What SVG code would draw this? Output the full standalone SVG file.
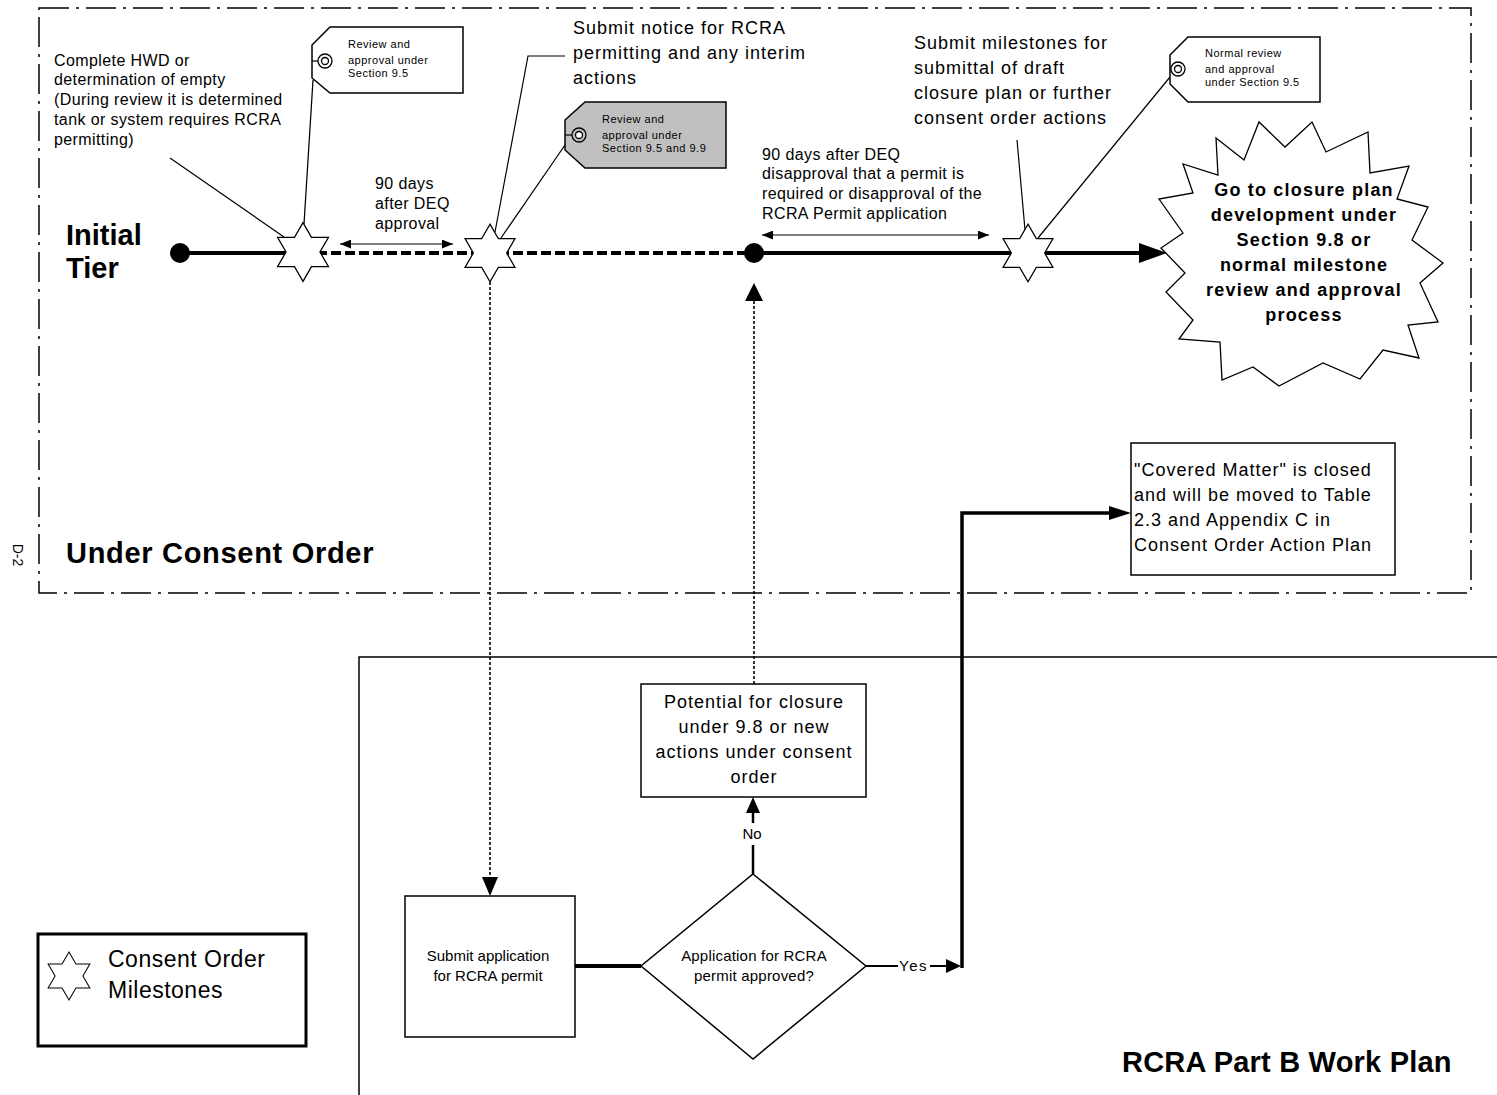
<svg xmlns="http://www.w3.org/2000/svg" width="1497" height="1095" viewBox="0 0 1497 1095">
<style>
  text { font-family: "Liberation Sans", Arial, sans-serif; fill: #000; }
  .t16 { font-size: 16px; letter-spacing: 0.4px; }
  .t18 { font-size: 18px; letter-spacing: 1px; }
  .t15 { font-size: 15px; }
  .tag { font-size: 11px; letter-spacing: 0.5px; }
  .big { font-size: 29px; font-weight: bold; }
  .burst { font-size: 18px; font-weight: bold; letter-spacing: 1.2px; }
  .box { fill: #fff; stroke: #000; stroke-width: 1.5; }
  .thin { fill: none; stroke: #000; stroke-width: 1.2; }
  .thick { fill: none; stroke: #000; stroke-width: 4; }
  .dot { fill: none; stroke: #000; stroke-width: 1.6; stroke-dasharray: 3 2; }
  .star { fill: #fff; stroke: #000; stroke-width: 1.2; }
  .head { fill: #000; stroke: none; }
</style>
<defs>
  <path id="star" d="M0,-28 L8.08,-14 L24.25,-14 L16.17,0 L24.25,14 L8.08,14 L0,28 L-8.08,14 L-24.25,14 L-16.17,0 L-24.25,-14 L-8.08,-14 Z"/>
  <marker id="sa" viewBox="0 0 10 8" refX="10" refY="4" markerWidth="11" markerHeight="9" markerUnits="userSpaceOnUse" orient="auto-start-reverse">
    <path d="M0,0 L10,4 L0,8 Z" fill="#000"/>
  </marker>
</defs>

<!-- Swimlane boundaries -->
<g id="consent-order-region">
  <rect x="39" y="8" width="1432" height="585" fill="none" stroke="#000" stroke-width="1.5" stroke-dasharray="30 7 3 7"/>
  <text class="big" x="66" y="563" style="letter-spacing:0.7px">Under Consent Order</text>
</g>
<g id="work-plan-region">
  <path d="M1497,657 L359,657 L359,1095" fill="none" stroke="#000" stroke-width="1.5"/>
  <text class="big" x="1122" y="1072" style="letter-spacing:0.2px">RCRA Part B Work Plan</text>
</g>
<g id="page-label">
  <text x="18" y="555" font-size="14" text-anchor="middle" transform="rotate(90 18 555)" dy="5">D-2</text>
</g>
<g id="initial-tier-label">
  <text class="big" x="66" y="245">Initial</text>
  <text class="big" x="66" y="278">Tier</text>
</g>

<!-- Connectors -->
<g id="connectors">
  <!-- timeline -->
  <line class="thick" x1="180" y1="253" x2="303" y2="253"/>
  <line class="thick" x1="303" y1="253" x2="754" y2="253" stroke-dasharray="10 4"/>
  <line class="thick" x1="754" y1="253" x2="1141" y2="253"/>
  <polygon class="head" points="1139,243 1167,253 1139,263"/>
  <!-- duration arrows -->
  <line class="thin" x1="340" y1="244" x2="453" y2="244" marker-start="url(#sa)" marker-end="url(#sa)"/>
  <line class="thin" x1="762" y1="235" x2="989" y2="235" marker-start="url(#sa)" marker-end="url(#sa)"/>
  <!-- leaders -->
  <line class="thin" x1="170" y1="158" x2="284" y2="237"/>
  <line class="thin" x1="313" y1="80" x2="304" y2="224"/>
  <polyline class="thin" points="565,56 528,56 495,232"/>
  <line class="thin" x1="565" y1="145" x2="501" y2="238"/>
  <line class="thin" x1="1017" y1="140" x2="1025" y2="230"/>
  <line class="thin" x1="1170" y1="77" x2="1038" y2="238"/>
  <!-- dotted links -->
  <line class="dot" x1="490" y1="282" x2="490" y2="879"/>
  <polygon class="head" points="482,877 490,896 498,877"/>
  <line class="dot" x1="754" y1="684" x2="754" y2="300"/>
  <polygon class="head" points="745,301 754,283 763,301"/>
  <!-- bottom flow -->
  <line class="thick" x1="575" y1="966" x2="641" y2="966"/>
  <line x1="753" y1="874" x2="753" y2="845" stroke="#000" stroke-width="2.5"/>
  <text class="t15" x="752" y="838.5" text-anchor="middle">No</text>
  <line x1="753" y1="823" x2="753" y2="810" stroke="#000" stroke-width="2.5"/>
  <polygon class="head" points="746,813 753,797 760,813"/>
  <line x1="866" y1="966" x2="898" y2="966" stroke="#000" stroke-width="2"/>
  <text class="t15" x="899" y="971" style="letter-spacing:1.5px">Yes</text>
  <line x1="930" y1="966" x2="948" y2="966" stroke="#000" stroke-width="2"/>
  <polygon class="head" points="946,959 961,966 946,973"/>
  <polyline points="962,968 962,513 1111,513" fill="none" stroke="#000" stroke-width="3.5"/>
  <polygon class="head" points="1109,506 1131,513 1109,520"/>
</g>

<!-- Timeline nodes -->
<g id="start-dot"><circle cx="180" cy="253" r="10" fill="#000"/></g>
<g id="mid-dot"><circle cx="754" cy="253" r="10" fill="#000"/></g>
<g id="milestone-1"><use href="#star" class="star" transform="translate(303,252) scale(1.05)"/></g>
<g id="milestone-2"><use href="#star" class="star" transform="translate(490,253) scale(1.03)"/></g>
<g id="milestone-3"><use href="#star" class="star" transform="translate(1028,253) scale(1.03)"/></g>

<!-- Annotations -->
<g id="note-hwd">
  <text class="t16" x="54" y="65.5">Complete HWD or</text>
  <text class="t16" x="54" y="84.5">determination of empty</text>
  <text class="t16" x="54" y="104.5">(During review it is determined</text>
  <text class="t16" x="54" y="124.5">tank or system requires RCRA</text>
  <text class="t16" x="54" y="144.5">permitting)</text>
</g>
<g id="note-90days-1">
  <text class="t16" x="375" y="188.5">90 days</text>
  <text class="t16" x="375" y="208.5">after DEQ</text>
  <text class="t16" x="375" y="228.5">approval</text>
</g>
<g id="note-submit-notice">
  <text class="t18" x="573" y="34">Submit notice for RCRA</text>
  <text class="t18" x="573" y="59">permitting and any interim</text>
  <text class="t18" x="573" y="84">actions</text>
</g>
<g id="note-90days-2">
  <text class="t16" x="762" y="159.5">90 days after DEQ</text>
  <text class="t16" x="762" y="178.5">disapproval that a permit is</text>
  <text class="t16" x="762" y="198.5">required or disapproval of  the</text>
  <text class="t16" x="762" y="218.5">RCRA Permit application</text>
</g>
<g id="note-submit-milestones">
  <text class="t18" x="914" y="49">Submit milestones for</text>
  <text class="t18" x="914" y="74">submittal of draft</text>
  <text class="t18" x="914" y="99">closure plan or further</text>
  <text class="t18" x="914" y="124">consent order actions</text>
</g>

<!-- Tags -->
<g id="tag-review-95">
  <polygon class="box" points="330,27 463,27 463,93 330,93 312,78 312,45"/>
  <line x1="312" y1="61" x2="318" y2="61" stroke="#000" stroke-width="1.2"/>
  <circle cx="325" cy="61" r="7" fill="none" stroke="#000" stroke-width="1.3"/>
  <circle cx="325" cy="61" r="3.5" fill="none" stroke="#000" stroke-width="1.3"/>
  <text class="tag" x="348" y="48">Review and</text>
  <text class="tag" x="348" y="64">approval  under</text>
  <text class="tag" x="348" y="77">Section 9.5</text>
</g>
<g id="tag-review-95-99">
  <polygon points="585,102 726,102 726,168 585,168 565,150 565,120" fill="#c0c0c0" stroke="#000" stroke-width="1.5"/>
  <line x1="565" y1="135" x2="572" y2="135" stroke="#000" stroke-width="1.2"/>
  <circle cx="579" cy="135" r="7" fill="#c0c0c0" stroke="#000" stroke-width="1.3"/>
  <circle cx="579" cy="135" r="3.5" fill="#fff" stroke="#000" stroke-width="1.3"/>
  <text class="tag" x="602" y="123">Review and</text>
  <text class="tag" x="602" y="139">approval under</text>
  <text class="tag" x="602" y="152">Section 9.5 and 9.9</text>
</g>
<g id="tag-normal-review">
  <polygon class="box" points="1188,37 1320,37 1320,102 1188,102 1170,84 1170,55"/>
  <circle cx="1178" cy="69" r="7" fill="none" stroke="#000" stroke-width="1.3"/>
  <circle cx="1178" cy="69" r="3.5" fill="none" stroke="#000" stroke-width="1.3"/>
  <text class="tag" x="1205" y="57">Normal review</text>
  <text class="tag" x="1205" y="73">and approval</text>
  <text class="tag" x="1205" y="86">under Section 9.5</text>
</g>

<!-- Starburst -->
<g id="closure-plan-burst">
  <polygon fill="#fff" stroke="#000" stroke-width="1.3" points="1216,138 1244,160 1259,122 1285,147 1312,122 1326,152 1368,132 1370,173 1409,166 1397,199 1428,207 1412,240 1443,263 1420,283 1438,322 1408,325 1419,358 1383,350 1360,379 1323,363 1279,386 1253,367 1222,380 1220,342 1179,339 1193,320 1166,292 1185,273 1161,248 1183,233 1159,199 1193,193 1183,164 1218,175"/>
  <text class="burst" x="1304" y="195.5" text-anchor="middle">Go to closure plan</text>
  <text class="burst" x="1304" y="220.5" text-anchor="middle">development under</text>
  <text class="burst" x="1304" y="245.5" text-anchor="middle">Section 9.8 or</text>
  <text class="burst" x="1304" y="270.5" text-anchor="middle">normal milestone</text>
  <text class="burst" x="1304" y="295.5" text-anchor="middle">review and approval</text>
  <text class="burst" x="1304" y="320.5" text-anchor="middle">process</text>
</g>

<!-- Work plan nodes -->
<g id="covered-matter">
  <rect class="box" x="1131" y="443" width="264" height="132"/>
  <text class="t18" x="1134" y="476">"Covered Matter" is closed</text>
  <text class="t18" x="1134" y="501">and will be moved to Table</text>
  <text class="t18" x="1134" y="526">2.3 and Appendix C in</text>
  <text class="t18" x="1134" y="551">Consent Order Action Plan</text>
</g>
<g id="potential-closure">
  <rect class="box" x="641" y="684" width="225" height="113"/>
  <text class="t18" x="754" y="708" text-anchor="middle">Potential for closure</text>
  <text class="t18" x="754" y="733" text-anchor="middle">under 9.8 or new</text>
  <text class="t18" x="754" y="758" text-anchor="middle">actions under consent</text>
  <text class="t18" x="754" y="783" text-anchor="middle">order</text>
</g>
<g id="submit-application">
  <rect class="box" x="405" y="896" width="170" height="141"/>
  <text class="t15" x="488" y="960.5" text-anchor="middle">Submit application</text>
  <text class="t15" x="488" y="980.5" text-anchor="middle">for RCRA permit</text>
</g>
<g id="approved-decision">
  <polygon class="box" points="753,874 866,966 753,1059 641,966"/>
  <text class="t15" x="754" y="960.5" text-anchor="middle" style="letter-spacing:0.2px">Application for RCRA</text>
  <text class="t15" x="754" y="980.5" text-anchor="middle" style="letter-spacing:0.2px">permit approved?</text>
</g>

<!-- Legend -->
<g id="legend">
  <rect x="38" y="934" width="268" height="112" fill="#fff" stroke="#000" stroke-width="3"/>
  <use href="#star" class="star" transform="translate(69,976) scale(0.86)"/>
  <text x="108" y="967" font-size="23" style="letter-spacing:0.5px">Consent Order</text>
  <text x="108" y="998" font-size="23" style="letter-spacing:0.5px">Milestones</text>
</g>
</svg>
